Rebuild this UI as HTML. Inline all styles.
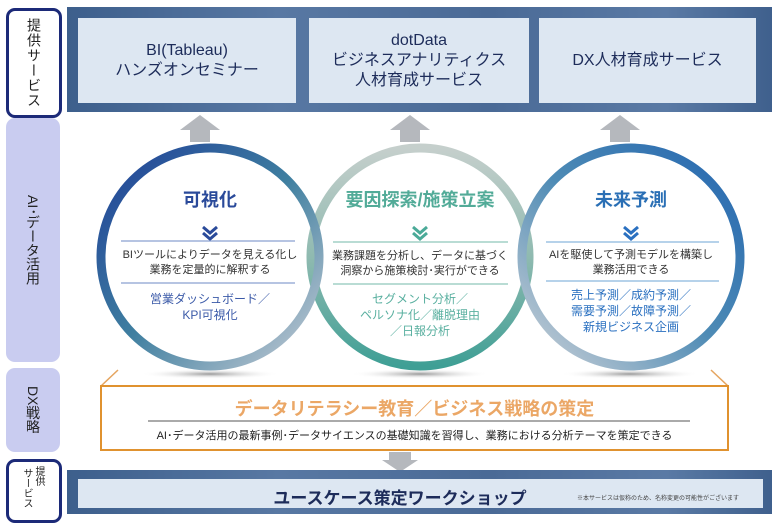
<!DOCTYPE html>
<html><head><meta charset="utf-8"><style>
body{margin:0;width:782px;height:526px;background:#fff;overflow:hidden;position:relative;font-family:"Liberation Sans","Noto Sans CJK JP",sans-serif}
.a{position:absolute}
.vt{writing-mode:vertical-rl;text-orientation:upright;display:flex;align-items:center;justify-content:center}
.mx{text-orientation:mixed}
.band{background:linear-gradient(90deg,#3d5f8c,#5878a3 30%,#4a6a96 60%,#5a7aa5 85%,#3f608d)}
.box{background:#dde7f2;color:#1d2c5a;text-align:center;display:flex;flex-direction:column;align-items:center;justify-content:center;font-size:16px;line-height:20px}
.c{text-align:center;position:absolute}
</style></head><body>
<div class="a vt" style="left:6px;top:8px;width:50px;height:104px;border:3px solid #1c2a78;border-radius:9px;font-size:14px;color:#222;letter-spacing:1px">提供サービス</div>
<div class="a vt mx" style="left:6px;top:118px;width:54px;height:244px;background:#c9ccf0;border-radius:9px;font-size:14px;color:#222">AI･データ活用</div>
<div class="a vt mx" style="left:6px;top:368px;width:54px;height:84px;background:#c9ccf0;border-radius:9px;font-size:14px;color:#222">DX戦略</div>
<div class="a" style="left:6px;top:459px;width:50px;height:58px;border:3px solid #1c2a78;border-radius:9px;font-size:10px;color:#222;line-height:11px;"><div style="writing-mode:vertical-rl;position:absolute;left:12px;top:6px">サービス</div><div style="writing-mode:vertical-rl;position:absolute;left:24px;top:4px">提供</div></div>

<div class="a band" style="left:67px;top:7px;width:705px;height:105px"></div>
<div class="a box" style="left:78px;top:18px;width:218px;height:85px">BI(Tableau)<br>ハンズオンセミナー</div>
<div class="a box" style="left:309px;top:18px;width:220px;height:85px">dotData<br>ビジネスアナリティクス<br>人材育成サービス</div>
<div class="a box" style="left:539px;top:18px;width:217px;height:85px">DX人材育成サービス</div>

<svg class="a" style="left:0;top:0" width="782" height="526">
<defs>
<linearGradient id="g1" x1="0" y1="0" x2="1" y2="1"><stop offset="0" stop-color="#1f3f98"/><stop offset=".5" stop-color="#3f7fa0"/><stop offset="1" stop-color="#c7cdd6"/></linearGradient>
<linearGradient id="g2" x1="0" y1="0" x2="0" y2="1"><stop offset="0" stop-color="#c5cfcc"/><stop offset=".5" stop-color="#8fbab0"/><stop offset="1" stop-color="#3f9f95"/></linearGradient>
<linearGradient id="g3" x1="0" y1="1" x2="1" y2="0"><stop offset="0" stop-color="#cfd3d8"/><stop offset=".5" stop-color="#4e8bb5"/><stop offset="1" stop-color="#2466b0"/></linearGradient>
<radialGradient id="sh"><stop offset="0" stop-color="#999"/><stop offset="1" stop-color="#fff" stop-opacity="0"/></radialGradient>
</defs>
<polygon points="200,115 220,130 210,130 210,142 190,142 190,130 180,130" fill="#b5b8bd"/>
<polygon points="410,115 430,130 420,130 420,142 400,142 400,130 390,130" fill="#b5b8bd"/>
<polygon points="620,115 640,130 630,130 630,142 610,142 610,130 600,130" fill="#b5b8bd"/>
<ellipse cx="210" cy="374" rx="70" ry="5" fill="url(#sh)"/>
<ellipse cx="420" cy="374" rx="70" ry="5" fill="url(#sh)"/>
<ellipse cx="630" cy="374" rx="70" ry="5" fill="url(#sh)"/>
<circle cx="420" cy="257" r="109" fill="none" stroke="url(#g2)" stroke-width="9"/>
<circle cx="210" cy="257" r="109" fill="none" stroke="url(#g1)" stroke-width="9"/>
<circle cx="631" cy="257" r="109" fill="none" stroke="url(#g3)" stroke-width="9"/>
<g fill="none" stroke-width="3"><path d="M203,227 l7,6 l7,-6 M203,233 l7,6 l7,-6" stroke="#2a4a9a"/><path d="M413,227 l7,6 l7,-6 M413,233 l7,6 l7,-6" stroke="#4aaa98"/><path d="M624,227 l7,6 l7,-6 M624,233 l7,6 l7,-6" stroke="#2a70c0"/></g>
<g stroke-width="1.3"><line x1="121" y1="241" x2="295" y2="241" stroke="#8aa0d0"/><line x1="121" y1="283" x2="295" y2="283" stroke="#8aa0d0"/><line x1="333" y1="242" x2="508" y2="242" stroke="#8fc8bb"/><line x1="333" y1="284" x2="508" y2="284" stroke="#8fc8bb"/><line x1="546" y1="242" x2="719" y2="242" stroke="#8ab8dd"/><line x1="546" y1="281" x2="719" y2="281" stroke="#8ab8dd"/></g>
<g stroke="#e5a560" stroke-width="1.5"><line x1="101" y1="386" x2="118" y2="370"/><line x1="728" y1="386" x2="711" y2="370"/></g>
<rect x="101" y="386" width="627" height="64" fill="#fff" stroke="#e0922f" stroke-width="2"/>
<line x1="148" y1="421" x2="690" y2="421" stroke="#555" stroke-width="1"/>
<polygon points="389,452 411,452 411,460 418,460 400,472 382,460 389,460" fill="#b5b8bd"/>
</svg>
<div class="c" style="left:110px;top:186px;width:200px;font-size:18px;font-weight:bold;color:#2a4a9a">可視化</div>
<div class="c" style="left:110px;top:248px;width:200px;font-size:11px;line-height:15px;color:#333">BIツールによりデータを見える化し<br>業務を定量的に解釈する</div>
<div class="c" style="left:110px;top:291px;width:200px;font-size:12px;line-height:16px;color:#3b5aa8">営業ダッシュボード／<br>KPI可視化</div>
<div class="c" style="left:310px;top:186px;width:220px;font-size:18px;font-weight:bold;color:#52ab98">要因探索/施策立案</div>
<div class="c" style="left:320px;top:249px;width:200px;font-size:11px;line-height:15px;color:#333">業務課題を分析し、データに基づく<br>洞察から施策検討･実行ができる</div>
<div class="c" style="left:320px;top:291px;width:200px;font-size:12px;line-height:16px;color:#5ab0a0">セグメント分析／<br>ペルソナ化／離脱理由<br>／日報分析</div>
<div class="c" style="left:531px;top:186px;width:200px;font-size:18px;font-weight:bold;color:#2a6fb5">未来予測</div>
<div class="c" style="left:531px;top:248px;width:200px;font-size:11px;line-height:15px;color:#333">AIを駆使して予測モデルを構築し<br>業務活用できる</div>
<div class="c" style="left:531px;top:287px;width:200px;font-size:12px;line-height:16px;color:#2a70c0">売上予測／成約予測／<br>需要予測／故障予測／<br>新規ビジネス企画</div>
<div class="c" style="left:101px;top:395px;width:627px;font-size:18px;font-weight:bold;color:#eba766">データリテラシー教育／ビジネス戦略の策定</div>
<div class="c" style="left:101px;top:427px;width:627px;font-size:11px;color:#222">AI･データ活用の最新事例･データサイエンスの基礎知識を習得し、業務における分析テーマを策定できる</div>
<div class="a band" style="left:67px;top:470px;width:705px;height:44px"></div>
<div class="a" style="left:78px;top:479px;width:685px;height:29px;background:#dde7f2"></div>
<div class="c" style="left:250px;top:484px;width:300px;font-size:17px;font-weight:bold;color:#1d2c5a">ユースケース策定ワークショップ</div>
<div class="a" style="left:577px;top:493px;font-size:6px;color:#444;white-space:nowrap">※本サービスは仮称のため、名称変更の可能性がございます</div>
</body></html>
